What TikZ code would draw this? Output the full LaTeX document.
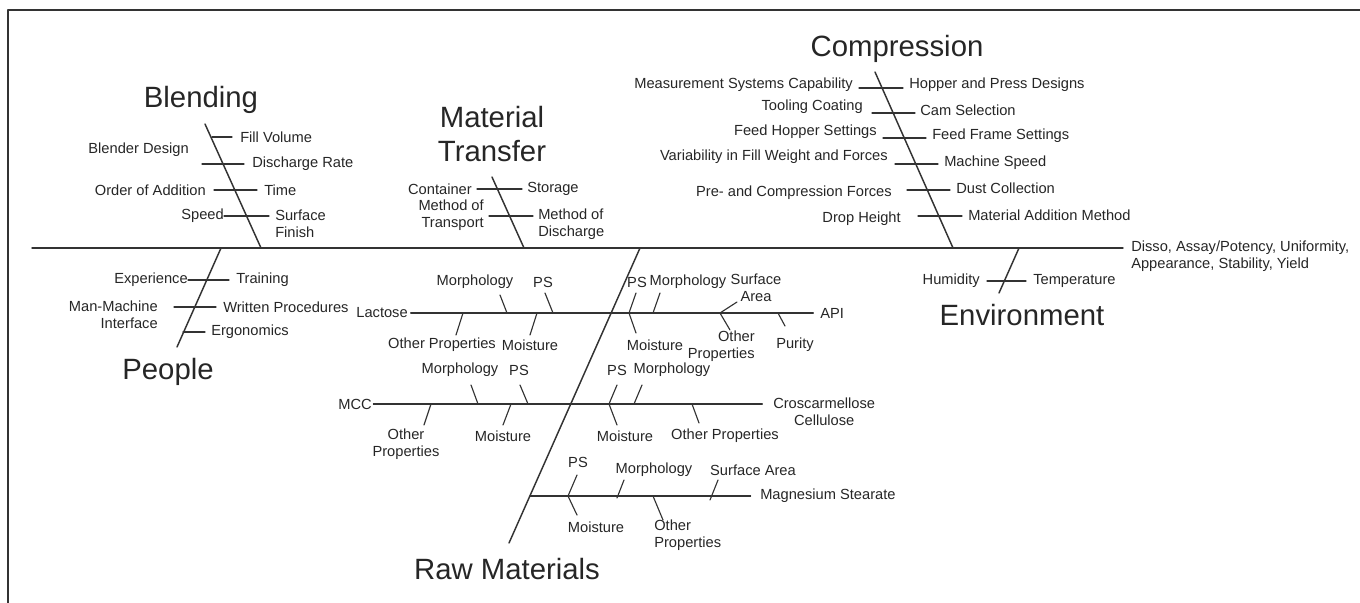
\documentclass[tikz,border=0pt]{standalone}
\usepackage{fontspec}
\setmainfont{Liberation Sans}
\usetikzlibrary{positioning}
\definecolor{bbbbbb}{rgb}{0.2,0.2,0.2}
\definecolor{tttttt}{rgb}{0.15,0.15,0.15}

\begin{document}
\begin{tikzpicture}[line cap=round,line join=round,x=0.75pt,y=-0.75pt,
	bone/.style={draw=bbbbbb,line width=1.1pt},
	rib/.style={draw=bbbbbb,line width=0.85pt},
	cause/.style={text=tttttt,inner sep=0pt,font=\fontsize{11}{12.5}\selectfont},
	title/.style={text=tttttt,inner sep=0pt,font=\fontsize{22}{26}\selectfont}]
	\useasboundingbox (0,0) rectangle (1360,603);
	\draw [line width=1.3pt,color=bbbbbb] (8,603) -- (8,10) -- (1360,10);
	% spine and main bones
	\coordinate (tail) at (32,248);
	\coordinate (head) at (1123,248);
	\coordinate (bl1) at (205,124);
	\coordinate (bl2) at (261,248);
	\coordinate (pe1) at (221,248);
	\coordinate (pe2) at (177,347);
	\coordinate (mt1) at (492,177);
	\coordinate (mt2) at (524,248);
	\coordinate (co1) at (875,72);
	\coordinate (co2) at (953,248);
	\coordinate (en1) at (1019,248);
	\coordinate (en2) at (999,293);
	\coordinate (rm1) at (640,248);
	\coordinate (rm2) at (509,543);
	\draw [bone] (tail) -- (head);
	\draw [bone] (bl1) -- (bl2);
	\draw [bone] (pe1) -- (pe2);
	\draw [bone] (mt1) -- (mt2);
	\draw [bone] (co1) -- (co2);
	\draw [bone] (en1) -- (en2);
	\draw [bone] (rm1) -- (rm2);
	\node [cause,anchor=west,align=left] (effect) at (1131,256) {Disso, Assay/Potency, Uniformity,\\Appearance, Stability, Yield};
	% titles
	\node [title] (blending) at (201,100) {Blending};
	\node [title] (people) at (168,372) {People};
	\node [title,align=center] (mattrans) at (492,134) {Material\\Transfer};
	\node [title] (compression) at (897,49) {Compression};
	\node [title] (environment) at (1022,315) {Environment};
	\node [title] (rawmat) at (507,569) {Raw Materials};
	% Blending
	\draw [rib] (212,137) -- (232,137);
	\node [cause,anchor=west] (fillvol) at (240,137) {Fill Volume};
	\node [cause,anchor=east] (blenddes) at (189,150) {Blender Design};
	\draw [rib] (202,164) -- (244,164);
	\node [cause,anchor=west] (dischrate) at (252,164) {Discharge Rate};
	\draw [rib] (214,190) -- (257,190);
	\node [cause,anchor=east] (order) at (206,190) {Order of Addition};
	\node [cause,anchor=west] (time) at (264,190) {Time};
	\draw [rib] (224,216) -- (269,216);
	\node [cause,anchor=east] (speed) at (224,216) {Speed};
	\node [cause,anchor=west,align=left] (surfin) at (275,224) {Surface\\Finish};
	% People
	\draw [rib] (188,280) -- (229,280);
	\node [cause,anchor=east] (exper) at (188,280) {Experience};
	\node [cause,anchor=west] (training) at (236,280) {Training};
	\draw [rib] (174,307) -- (216,307);
	\node [cause,anchor=east,align=right] (manmach) at (158,315) {Man-Machine\\Interface};
	\node [cause,anchor=west] (writproc) at (223,307) {Written Procedures};
	\draw [rib] (183,332) -- (205,332);
	\node [cause,anchor=west] (ergo) at (211,332) {Ergonomics};
	% Material Transfer
	\draw [rib] (477,189) -- (522,189);
	\node [cause,anchor=east] (container) at (472,189) {Container};
	\node [cause,anchor=west] (storage) at (527,189) {Storage};
	\draw [rib] (489,216) -- (533,216);
	\node [cause,anchor=east,align=right] (transport) at (484,215) {Method of\\Transport};
	\node [cause,anchor=west,align=left] (discharge) at (538,224) {Method of\\Discharge};
	% Compression
	\draw [rib] (859,88) -- (903,88);
	\node [cause,anchor=east] (msc) at (853,85) {Measurement Systems Capability};
	\node [cause,anchor=west] (hopper) at (909,85) {Hopper and Press Designs};
	\draw [rib] (872,113) -- (915,113);
	\node [cause,anchor=east] (tooling) at (863,107) {Tooling Coating};
	\node [cause,anchor=west] (cam) at (920,110) {Cam Selection};
	\draw [rib] (883,138) -- (926,138);
	\node [cause,anchor=east] (feedhop) at (877,132) {Feed Hopper Settings};
	\node [cause,anchor=west] (feedframe) at (932,136) {Feed Frame Settings};
	\draw [rib] (895,164) -- (938,164);
	\node [cause,anchor=east] (fillwt) at (888,157) {Variability in Fill Weight and Forces};
	\node [cause,anchor=west] (machspeed) at (944,163) {Machine Speed};
	\draw [rib] (907,190) -- (950,190);
	\node [cause,anchor=east] (precomp) at (892,193) {Pre- and Compression Forces};
	\node [cause,anchor=west] (dust) at (956,188) {Dust Collection};
	\draw [rib] (918,216) -- (962,216);
	\node [cause,anchor=east] (drop) at (901,219) {Drop Height};
	\node [cause,anchor=west] (matadd) at (968,215) {Material Addition Method};
	% Environment
	\draw [rib] (987,281) -- (1026,281);
	\node [cause,anchor=east] (humidity) at (980,281) {Humidity};
	\node [cause,anchor=west] (temp) at (1033,281) {Temperature};
	% Raw Materials: Lactose / API
	\node [cause,anchor=east] (lactose) at (408,313) {Lactose};
	\node [cause,anchor=west] (api) at (820,313) {API};
	\draw [rib] ([xshift=2]lactose.east) -- ([xshift=-5]api.west);
	\draw [rib] (500,295) -- (507,313);
	\node [cause] (lacmorph) at (475,282) {Morphology};
	\draw [rib] (545,293) -- (553,313);
	\node [cause] (lacps) at (543,282) {PS};
	\draw [rib] (463,313) -- (456,335);
	\node [cause] (lacother) at (442,345) {Other Properties};
	\draw [rib] (537,313) -- (530,335);
	\node [cause] (lacmoist) at (530,345) {Moisture};
	\draw [rib] (636,293) -- (629,313) -- (636,333);
	\node [cause] (apips) at (637,282) {PS};
	\node [cause] (apimoist) at (655,345) {Moisture};
	\draw [rib] (660,293) -- (653,313);
	\node [cause] (apimorph) at (688,282) {Morphology};
	\draw [rib] (737,302) -- (720,313) -- (730,330);
	\node [cause,align=center] (apisurf) at (756,288) {Surface\\Area};
	\node [cause,anchor=east,align=right] (apiother) at (755,346) {Other\\Properties};
	\draw [rib] (778,313) -- (785,326);
	\node [cause] (purity) at (795,345) {Purity};
	% Raw Materials: MCC / Croscarmellose
	\node [cause,anchor=east] (mcc) at (372,404) {MCC};
	\node [cause,anchor=west,align=center] (crosc) at (773,412) {Croscarmellose\\Cellulose};
	\draw [rib] ([xshift=1]mcc.east) -- ([xshift=-8]mcc.east -| crosc.west);
	\draw [rib] (471,385) -- (478,404);
	\node [cause] (mccmorph) at (460,370) {Morphology};
	\draw [rib] (520,385) -- (528,404);
	\node [cause] (mccps) at (519,370) {PS};
	\draw [rib] (431,404) -- (424,425);
	\node [cause,align=center] (mccother) at (406,444) {Other\\Properties};
	\draw [rib] (511,404) -- (503,425);
	\node [cause] (mccmoist) at (503,436) {Moisture};
	\draw [rib] (617,385) -- (609,404) -- (617,425);
	\node [cause] (ccps) at (617,370) {PS};
	\node [cause] (ccmoist) at (625,436) {Moisture};
	\draw [rib] (642,385) -- (634,404);
	\node [cause] (ccmorph) at (672,370) {Morphology};
	\draw [rib] (692,404) -- (699,423);
	\node [cause] (ccother) at (725,436) {Other Properties};
	% Raw Materials: Magnesium Stearate
	\node [cause,anchor=west] (mgst) at (760,496) {Magnesium Stearate};
	\draw [rib] (530,496) -- ([xshift=-7]mgst.west);
	\draw [rib] (577,475) -- (568,496) -- (577,515);
	\node [cause] (mgps) at (578,462) {PS};
	\node [cause] (mgmoist) at (596,527) {Moisture};
	\draw [rib] (624,480) -- (617,498);
	\node [cause] (mgmorph) at (654,470) {Morphology};
	\draw [rib] (653,496) -- (663,520);
	\node [cause,anchor=west,align=left] (mgother) at (654,535) {Other\\Properties};
	\draw [rib] (718,480) -- (710,500);
	\node [cause] (mgsurf) at (753,470) {Surface Area};
\end{tikzpicture}
\end{document}
